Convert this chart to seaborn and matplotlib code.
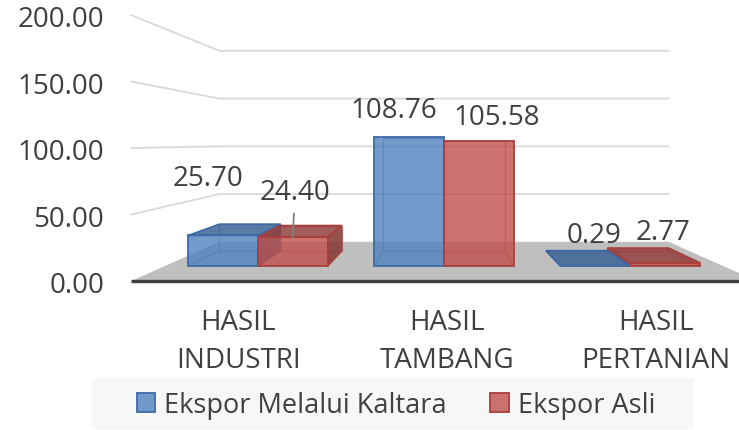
import pandas as pd
import matplotlib
matplotlib.use('Agg')
import matplotlib.pyplot as plt
from matplotlib.patches import Polygon, Patch, Rectangle
from matplotlib.colors import to_rgba
import seaborn as sns

# data
categories = ['HASIL\nINDUSTRI', 'HASIL\nTAMBANG', 'HASIL\nPERTANIAN']
series_names = ['Ekspor Melalui Kaltara', 'Ekspor Asli']
ekspor_kaltara = [25.70, 108.76, 0.29]
ekspor_asli = [24.40, 105.58, 2.77]
y_ticks = [0, 50, 100, 150, 200]

# styles
colors = ['#4F81BD', '#C0504D']
edge_colors = ['#3d6aa6', '#a93f3c']
top_colors = ['#3c6394', '#93403d']
side_colors = ['#34577f', '#843633']
text_color = '#404040'

# label offsets in pixels (dx, dy up) from the top of each bar's front face
label_offsets = [[(-15, 57), (-15, 27), (-1, 31)],
                 [(2, 45), (18, 24), (-2, 31)]]
label_leader = [[False, False, False],
                [True, False, False]]

# fake 3d: data coords are those of the bar front plane, other depths
# are scaled toward a vanishing point
VP = (1.0, 104.6)
R_WALL_FRONT = 1.121
R_BAR_BACK = 0.879
R_WALL_BACK = 0.805
X_WALLS = (-0.5, 2.5)


def proj(x, y, r):
    return (VP[0] + (x - VP[0]) * r, VP[1] + (y - VP[1]) * r)


sns.set_style('white')
plt.rcParams['font.family'] = ['Open Sans', 'DejaVu Sans']

df = pd.DataFrame({
    'kategori': categories * 2,
    'seri': [series_names[0]] * len(categories) + [series_names[1]] * len(categories),
    'nilai': ekspor_kaltara + ekspor_asli,
})

fig = plt.figure(figsize=(7.39, 4.31), dpi=100)
ax = fig.add_axes([0, 0, 1, 1])
sns.barplot(data=df, x='kategori', y='nilai', hue='seri', palette=colors,
            saturation=1, width=0.75, errorbar=None, legend=False, ax=ax,
            zorder=3, linewidth=1.3)
ax.set_xlim(-1.387, 2.586)
ax.set_ylim(-138.3, 225.1)
ax.axis('off')

# walls gridlines
for v in y_ticks[1:]:
    pts = [proj(X_WALLS[0], v, R_WALL_FRONT), proj(X_WALLS[0], v, R_WALL_BACK),
           proj(X_WALLS[1], v, R_WALL_BACK)]
    ax.plot([p[0] for p in pts], [p[1] for p in pts], color='#d9d9d9', lw=1.3, zorder=0.5)

# floor
floor = [proj(X_WALLS[0], 0, R_WALL_FRONT), proj(X_WALLS[1], 0, R_WALL_FRONT),
         proj(X_WALLS[1], 0, R_WALL_BACK), proj(X_WALLS[0], 0, R_WALL_BACK)]
ax.add_patch(Polygon(floor, closed=True, fc='#bfbfbf', ec='none', zorder=1))
a, b = floor[0], floor[1]
ax.plot([a[0], b[0]], [a[1], b[1]], color=text_color, lw=2.4, zorder=1.5, solid_capstyle='butt')

# y tick labels on the front edge of the left wall
for v in y_ticks:
    px, py = proj(X_WALLS[0], v, R_WALL_FRONT)
    ax.annotate(f'{v:.2f}', (px, py), xytext=(-27, -11), textcoords='offset pixels',
                ha='right', va='baseline', fontsize=20, color=text_color)

# category labels
for i, cat in enumerate(categories):
    px, py = proj(i, 0, R_WALL_FRONT)
    ax.annotate(cat, (px, py), xytext=(3, -60), textcoords='offset pixels',
                ha='center', va='center', fontsize=20, color=text_color, linespacing=1.45)

# bar sides, tops and back edges
for k, cont in enumerate(ax.containers):
    for i, bar in enumerate(cont):
        x0 = bar.get_x()
        x1 = x0 + bar.get_width()
        h = bar.get_height()
        bar.set_facecolor(to_rgba(colors[k], 0.8))
        bar.set_edgecolor(edge_colors[k])

        back = [proj(x0, 0, R_BAR_BACK), proj(x1, 0, R_BAR_BACK),
                proj(x1, h, R_BAR_BACK), proj(x0, h, R_BAR_BACK)]
        ax.add_patch(Polygon(back, closed=True, fill=False, ec=edge_colors[k],
                             lw=0.9, alpha=0.55, zorder=2))
        for xx, yy in [(x0, 0), (x1, 0)]:
            q = proj(xx, yy, R_BAR_BACK)
            ax.plot([xx, q[0]], [yy, q[1]], color=edge_colors[k], lw=0.9, alpha=0.55, zorder=2)

        if x1 < VP[0] - 1e-6:
            side = [(x1, 0), (x1, h), proj(x1, h, R_BAR_BACK), proj(x1, 0, R_BAR_BACK)]
            ax.add_patch(Polygon(side, closed=True, fc=to_rgba(side_colors[k], 0.85),
                                 ec=edge_colors[k], lw=1.0, zorder=2.5))
        elif x0 > VP[0] + 1e-6:
            side = [(x0, 0), (x0, h), proj(x0, h, R_BAR_BACK), proj(x0, 0, R_BAR_BACK)]
            ax.add_patch(Polygon(side, closed=True, fc=to_rgba(side_colors[k], 0.85),
                                 ec=edge_colors[k], lw=1.0, zorder=2.5))
        if h < VP[1]:
            top = [(x0, h), (x1, h), proj(x1, h, R_BAR_BACK), proj(x0, h, R_BAR_BACK)]
            ax.add_patch(Polygon(top, closed=True, fc=to_rgba(top_colors[k], 0.85),
                                 ec=edge_colors[k], lw=1.2, zorder=2.6))

        dx, dy = label_offsets[k][i]
        arrow = dict(arrowstyle='-', color='#7f7f7f', lw=1.3, shrinkA=3, shrinkB=0) if label_leader[k][i] else None
        ax.annotate(f'{h:.2f}', ((x0 + x1) / 2, h), xytext=(dx, dy), textcoords='offset pixels',
                    ha='center', va='center', fontsize=20, color=text_color,
                    arrowprops=arrow, zorder=4)

# legend
fig.add_artist(Rectangle((92 / 739, 1 - 430 / 431), 601 / 739, 51 / 431,
                         transform=fig.transFigure, fc='#f7f7f7', ec='none', zorder=0))
handles = [Patch(fc=to_rgba(c, 0.8), ec=e, lw=1.3) for c, e in zip(colors, edge_colors)]
leg = fig.legend(handles, series_names, loc='center', bbox_to_anchor=(396 / 739, 1 - 406 / 431),
                 ncol=2, frameon=False, fontsize=19.5, handlelength=0.68, handleheight=0.68,
                 handletextpad=0.33, columnspacing=1.6, borderpad=0)
for t in leg.get_texts():
    t.set_color(text_color)

fig.savefig('out.png', dpi=100)
